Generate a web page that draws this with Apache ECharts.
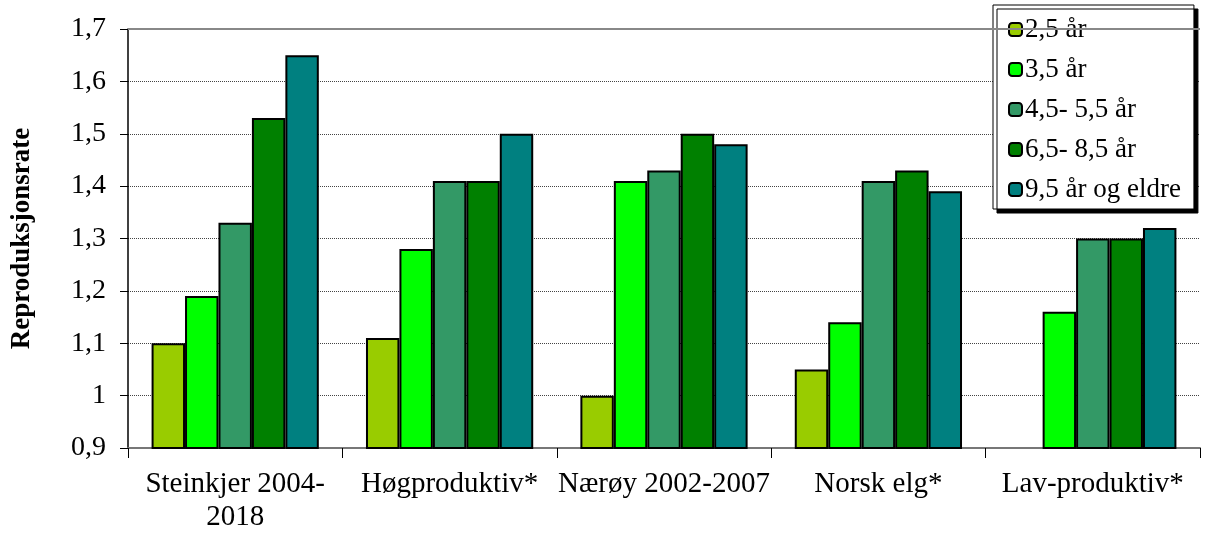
<!DOCTYPE html>
<html>
<head>
<meta charset="utf-8">
<script src="https://cdn.jsdelivr.net/npm/echarts@6/dist/echarts.min.js"></script>
<style>
    html, body { margin: 0; padding: 0; background: #fff; }
    #charts { width: 1206px; height: 534px; }
</style>
</head>
<body>
<div id="charts"></div>
<script>
// kategorier
var categories = ['Steinkjer 2004-\n2018', 'Høgproduktiv*', 'Nærøy 2002-2007', 'Norsk elg*', 'Lav-produktiv*']
var seriesNames = ['2,5 år', '3,5 år', '4,5- 5,5 år', '6,5- 8,5 år', '9,5 år og eldre']
// verdier per aldersklasse
var age25 = [1.10, 1.11, 1.00, 1.05, 0.90]
var age35 = [1.19, 1.28, 1.41, 1.14, 1.16]
var age45 = [1.33, 1.41, 1.43, 1.41, 1.30]
var age65 = [1.53, 1.41, 1.50, 1.43, 1.30]
var age95 = [1.65, 1.50, 1.48, 1.39, 1.32]
var colors = ['#99cc00', '#00ff00', '#339966', '#008000', '#008080']

var font = '"Liberation Serif", "Times New Roman", serif'
var values = [age25, age35, age45, age65, age95]

var myEcharts = echarts.init(document.getElementById('charts'))
myEcharts.setOption({
    animation: false,
    textStyle: { fontFamily: font },
    grid: {
        left: 128,
        right: 6,
        top: 29,
        bottom: 83
    },
    legend: {
        orient: 'vertical',
        left: 993,
        top: 5,
        padding: [11, 13, 6, 15],
        itemGap: 13,
        itemWidth: 13,
        itemHeight: 13,
        backgroundColor: '#fff',
        borderColor: '#000',
        borderWidth: 1,
        shadowColor: '#000',
        shadowBlur: 0,
        shadowOffsetX: 4,
        shadowOffsetY: 4,
        textStyle: { fontFamily: font, fontSize: 27, color: '#000', padding: [0, 0, 0, -2] },
        data: seriesNames
    },
    xAxis: {
        type: 'category',
        data: categories,
        axisLine: { lineStyle: { color: '#777', width: 2 } },
        axisTick: { show: true, length: 10, lineStyle: { color: '#000' } },
        axisLabel: { interval: 0, fontFamily: font, fontSize: 29, color: '#000', margin: 20, lineHeight: 33 }
    },
    yAxis: {
        type: 'value',
        min: 0.9,
        max: 1.7,
        interval: 0.1,
        name: 'Reproduksjonsrate',
        nameLocation: 'middle',
        nameGap: 92,
        nameTextStyle: { fontFamily: font, fontSize: 27, fontWeight: 'bold', color: '#000' },
        axisLine: { show: true, lineStyle: { color: '#000', width: 1.5 } },
        axisTick: { show: true, length: 8, lineStyle: { color: '#000' } },
        axisLabel: {
            fontFamily: font,
            fontSize: 28,
            color: '#000',
            margin: 22,
            formatter: function (v) {
                return String(+v.toFixed(1)).replace('.', ',')
            }
        },
        splitLine: { show: true, lineStyle: { color: '#444', type: 'dotted', width: 1 } }
    },
    series: seriesNames.map(function (name, i) {
        var s = {
            name: name,
            type: 'bar',
            data: values[i],
            barGap: '0%',
            barCategoryGap: '22%',
            barMinHeight: 2,
            itemStyle: { color: colors[i], borderColor: '#000', borderWidth: 2 }
        }
        // grå ramme øverst i plottet
        if (i === 0) {
            s.markLine = {
                silent: true,
                symbol: 'none',
                label: { show: false },
                lineStyle: { color: '#888', width: 2, type: 'solid' },
                data: [{ yAxis: 1.7 }]
            }
        }
        return s
    })
})
</script>
</body>
</html>
